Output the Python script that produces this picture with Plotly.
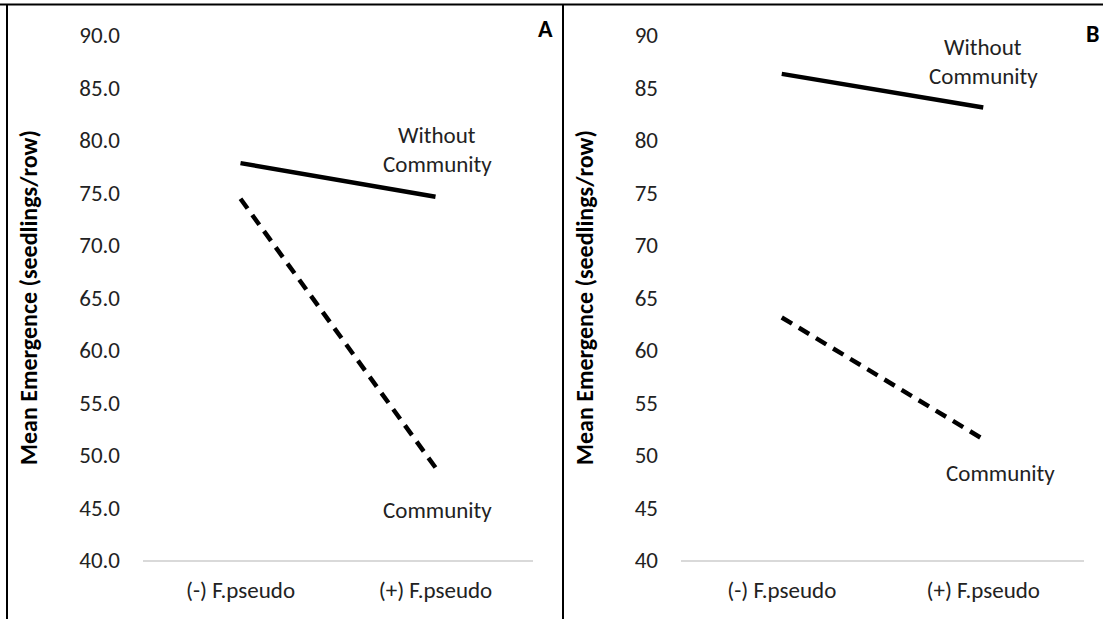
import plotly.graph_objects as go

categories = ["(-) F.pseudo", "(+) F.pseudo"]
a_without = [77.8, 74.6]
a_community = [74.4, 48.8]
b_without = [86.3, 83.1]
b_community = [63.1, 51.5]
a_ticks = [40, 45, 50, 55, 60, 65, 70, 75, 80, 85, 90]
a_ticktext = ["40.0", "45.0", "50.0", "55.0", "60.0", "65.0", "70.0", "75.0", "80.0", "85.0", "90.0"]
b_ticktext = ["40", "45", "50", "55", "60", "65", "70", "75", "80", "85", "90"]

W, H = 1103, 619
FONT = "Carlito, Calibri, Lato, sans-serif"
FS = 23

def px(x):
    return x / W

def py(y):
    return (H - y) / H

fig = go.Figure()
line_solid = dict(color="black", width=4.5)
line_dash = dict(color="black", width=4.5, dash="12px,8px")
fig.add_trace(go.Scatter(x=categories, y=a_without, mode="lines", line=line_solid, xaxis="x", yaxis="y"))
fig.add_trace(go.Scatter(x=categories, y=a_community, mode="lines", line=line_dash, xaxis="x", yaxis="y"))
fig.add_trace(go.Scatter(x=categories, y=b_without, mode="lines", line=line_solid, xaxis="x2", yaxis="y2"))
fig.add_trace(go.Scatter(x=categories, y=b_community, mode="lines", line=line_dash, xaxis="x2", yaxis="y2"))

ydom = [py(560), py(35)]
common_x = dict(showgrid=False, showline=True, linecolor="#d9d9d9", linewidth=1.5, ticks="",
                automargin=False, ticklabelstandoff=9,
                tickfont=dict(family=FONT, size=FS, color="#222"), zeroline=False, range=[-0.5, 1.5])
common_y = dict(showgrid=False, showline=False, zeroline=False, range=[40, 90], tickvals=a_ticks,
                automargin=False,
                tickfont=dict(family=FONT, size=FS, color="#222"), ticklabelstandoff=22,
                title=dict(text="<b>Mean Emergence (seedlings/row)</b>",
                           font=dict(family=FONT, size=24, color="black"), standoff=34))

fig.update_layout(
    width=W, height=H, margin=dict(l=0, r=0, t=0, b=0, autoexpand=False),
    paper_bgcolor="white", plot_bgcolor="white", showlegend=False,
    xaxis=dict(domain=[px(143), px(533)], anchor="y", **common_x),
    yaxis=dict(domain=ydom, anchor="x", ticktext=a_ticktext, **common_y),
    xaxis2=dict(domain=[px(681), px(1084)], anchor="y2", **common_x),
    yaxis2=dict(domain=ydom, anchor="x2", ticktext=b_ticktext, **common_y),
)

def ann(text, x, y, bold=False, size=FS):
    fig.add_annotation(text=("<b>%s</b>" % text) if bold else text, xref="paper", yref="paper",
                       x=px(x), y=py(y), showarrow=False, xanchor="center", yanchor="middle",
                       font=dict(family=FONT, size=size, color="#222" if not bold else "black"))

ann("Without", 437, 135)
ann("Community", 437, 164)
ann("Community", 437, 510)
ann("A", 545, 29, bold=True, size=24)
ann("Without", 983, 47)
ann("Community", 983, 76)
ann("Community", 1000, 473)
ann("B", 1092, 33, bold=True, size=24)

border = dict(color="black", width=2)
fig.add_shape(type="line", xref="paper", yref="paper", x0=0, x1=1, y0=py(4.5), y1=py(4.5), line=border)
fig.add_shape(type="line", xref="paper", yref="paper", x0=px(7), x1=px(7), y0=0, y1=py(4.5), line=border)
fig.add_shape(type="line", xref="paper", yref="paper", x0=px(563), x1=px(563), y0=0, y1=py(4.5), line=border)

fig.write_html("out.html", config={"displayModeBar": False},
               post_script="document.body.style.margin='0';document.body.style.overflow='hidden';")
